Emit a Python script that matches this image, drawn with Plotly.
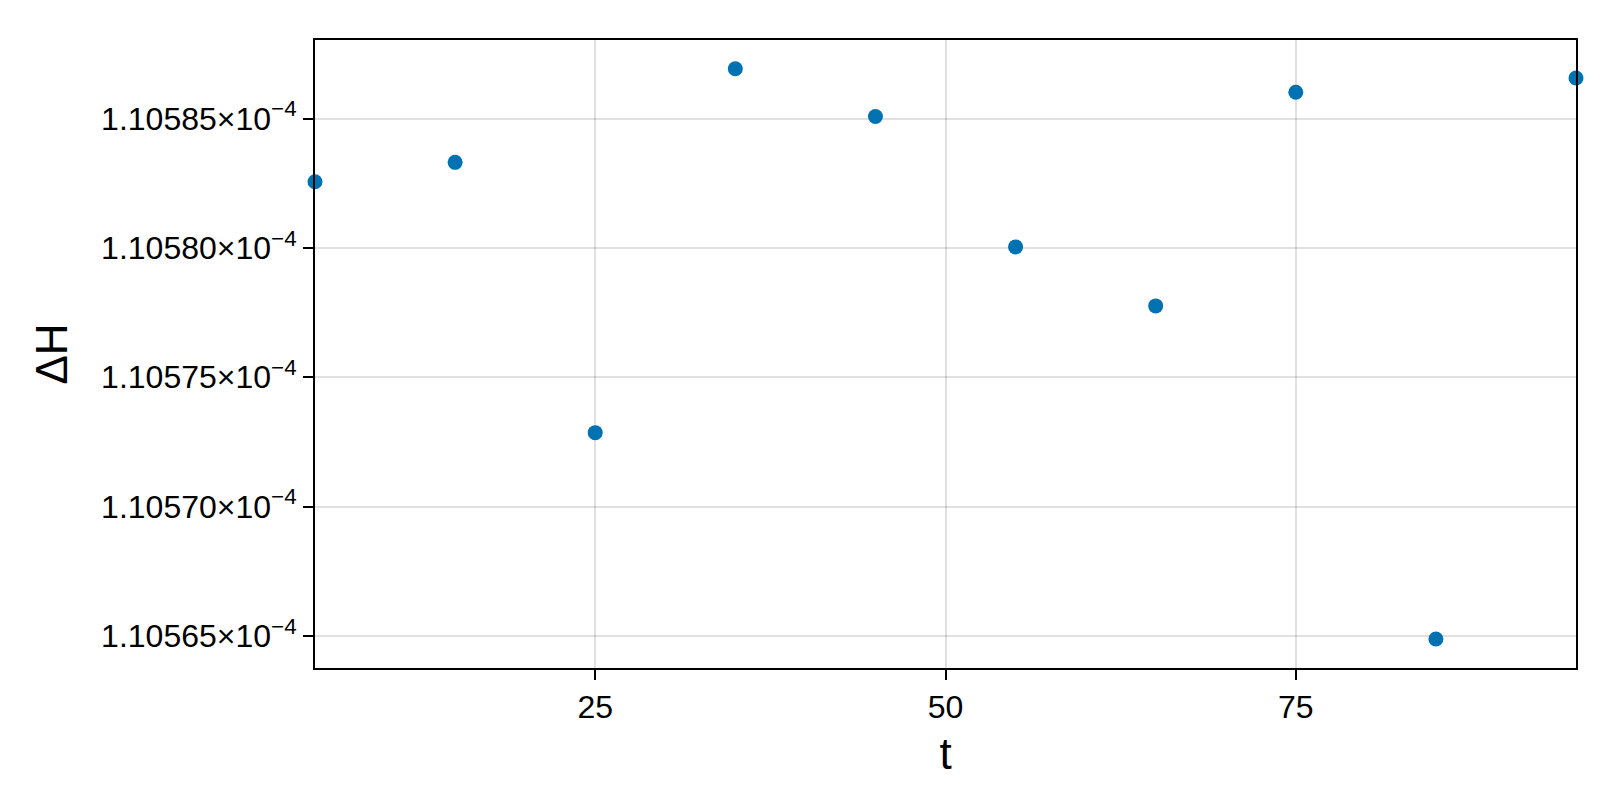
import plotly.graph_objects as go

# data
t = [5, 15, 25, 35, 45, 55, 65, 75, 85, 95]
dH = [1.1058256e-4, 1.1058331e-4, 1.1057286e-4, 1.1058693e-4, 1.1058508e-4,
      1.1058004e-4, 1.1057776e-4, 1.1058602e-4, 1.1056488e-4, 1.1058657e-4]

x_ticks = [25, 50, 75]
y_ticks = [1.10565e-4, 1.10570e-4, 1.10575e-4, 1.10580e-4, 1.10585e-4]
y_ticktext = ["1.10565×10<sup>−4</sup>", "1.10570×10<sup>−4</sup>", "1.10575×10<sup>−4</sup>",
              "1.10580×10<sup>−4</sup>", "1.10585×10<sup>−4</sup>"]

fig = go.Figure()

fig.add_trace(go.Scatter(
    x=t, y=dH, mode='markers',
    marker=dict(color='#0072B2', size=15, line=dict(width=0)),
    cliponaxis=False, showlegend=False))

axis_style = dict(
    showline=True, linecolor='black', linewidth=2, mirror=True,
    ticks='outside', ticklen=10, tickwidth=2, tickcolor='black',
    showgrid=True, gridcolor='rgba(0,0,0,0.12)', gridwidth=2,
    zeroline=False, tickfont=dict(size=32, color='black'),
)

fig.update_xaxes(axis_style, range=[5, 95], tickvals=x_ticks,
                 title=dict(text='t', font=dict(size=44, color='black'), standoff=14))
fig.update_yaxes(axis_style, range=[1.1056376e-4, 1.1058804e-4],
                 tickvals=y_ticks, ticktext=y_ticktext,
                 title=dict(text='ΔH', font=dict(size=44, color='black'), standoff=20))

fig.update_layout(
    width=1600, height=800,
    margin=dict(l=307, r=32, t=32, b=140),
    plot_bgcolor='white', paper_bgcolor='white',
    font=dict(family='Liberation Sans, Arial, sans-serif', color='black'),
)

fig.write_html("out.html")
